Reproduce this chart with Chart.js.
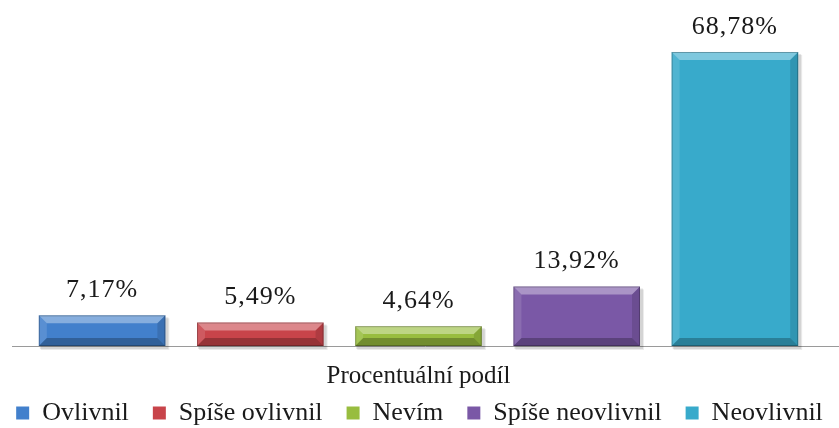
<!DOCTYPE html>
<html>
<head>
<meta charset="utf-8">
<script src="https://cdn.jsdelivr.net/npm/chart.js@4.4.0/dist/chart.umd.min.js"></script>
<style>
  html, body { margin: 0; padding: 0; background: #fff; }
  #wrap { width: 839px; height: 428px; position: relative; }
</style>
</head>
<body>
<div id="wrap"><canvas id="chart"></canvas></div>
<script>
const categories = ['Ovlivnil', 'Spíše ovlivnil', 'Nevím', 'Spíše neovlivnil', 'Neovlivnil'];
const shares = [7.17, 5.49, 4.64, 13.92, 68.78];
const barColors = ['#4280cc', '#c8444a', '#98bd3f', '#7a58a6', '#38aacb'];
const axisTitle = 'Procentuální podíl';

const serif = '"Liberation Serif", "Times New Roman", serif';
Chart.defaults.font.family = serif;
Chart.defaults.color = '#1a1a1a';

function fmt(v) {
    return v.toFixed(2).replace('.', ',') + '%';
}

// axis line a bit wider than the plot, like in the original
const baseLinePlugin = {
    id: 'baseLine',
    beforeDatasetsDraw(chart) {
        const ctx = chart.ctx;
        const y = chart.scales.y.getPixelForValue(0);
        ctx.save();
        ctx.strokeStyle = '#9a9a9a';
        ctx.lineWidth = 1;
        ctx.beginPath();
        ctx.moveTo(chart.chartArea.left - 11, y + 0.5);
        ctx.lineTo(chart.width, y + 0.5);
        ctx.stroke();
        ctx.restore();
    }
};

// shadow + bevel on each bar
const bevelPlugin = {
    id: 'bevel',
    beforeDatasetsDraw(chart) {
        const ctx = chart.ctx;
        chart.getDatasetMeta(0).data.forEach(bar => {
            const p = bar.getProps(['x', 'y', 'base', 'width'], true);
            const l = p.x - p.width / 2;
            ctx.save();
            ctx.fillStyle = 'rgba(0,0,0,0.10)';
            ctx.fillRect(l + 1, p.y + 2, p.width + 2, p.base - p.y + 1);
            ctx.fillStyle = 'rgba(0,0,0,0.08)';
            ctx.fillRect(l + 2, p.y + 3, p.width + 2, p.base - p.y + 1);
            ctx.restore();
        });
    },
    afterDatasetsDraw(chart) {
        const ctx = chart.ctx;
        chart.getDatasetMeta(0).data.forEach(bar => {
            const p = bar.getProps(['x', 'y', 'base', 'width'], true);
            const l = p.x - p.width / 2, r = p.x + p.width / 2;
            const t = p.y, b = p.base;
            const d = Math.min(8, (b - t) / 2.5);
            const poly = (pts, col) => {
                ctx.fillStyle = col;
                ctx.beginPath();
                ctx.moveTo(pts[0][0], pts[0][1]);
                for (let i = 1; i < pts.length; i++) ctx.lineTo(pts[i][0], pts[i][1]);
                ctx.closePath();
                ctx.fill();
            };
            ctx.save();
            poly([[l, t], [r, t], [r - d, t + d], [l + d, t + d]], 'rgba(255,255,255,0.36)');
            poly([[l, t], [l + d, t + d], [l + d, b - d], [l, b]], 'rgba(255,255,255,0.12)');
            poly([[r, t], [r, b], [r - d, b - d], [r - d, t + d]], 'rgba(0,0,0,0.12)');
            poly([[l, b], [l + d, b - d], [r - d, b - d], [r, b]], 'rgba(0,0,0,0.25)');
            ctx.strokeStyle = 'rgba(0,0,0,0.25)';
            ctx.lineWidth = 1;
            ctx.strokeRect(l + 0.5, t + 0.5, r - l - 1, b - t - 1);
            ctx.restore();
        });
    }
};

const valueLabelPlugin = {
    id: 'valueLabels',
    afterDatasetsDraw(chart) {
        const ctx = chart.ctx;
        ctx.save();
        ctx.font = '26px ' + serif;
        ctx.letterSpacing = '1px';
        ctx.fillStyle = '#1a1a1a';
        ctx.textAlign = 'center';
        ctx.textBaseline = 'middle';
        chart.getDatasetMeta(0).data.forEach((bar, i) => {
            const p = bar.getProps(['x', 'y'], true);
            ctx.fillText(fmt(shares[i]), p.x, p.y - 25);
        });
        ctx.restore();
    }
};

new Chart(document.getElementById('chart'), {
    type: 'bar',
    data: {
        labels: categories,
        datasets: [{
            data: shares,
            backgroundColor: barColors,
            borderWidth: 0,
            categoryPercentage: 1.0,
            barPercentage: 0.8
        }]
    },
    options: {
        responsive: true,
        maintainAspectRatio: false,
        animation: false,
        layout: { padding: { top: 4, left: -10, right: -10, bottom: -8 } },
        plugins: {
            legend: {
                position: 'bottom',
                labels: {
                    font: { family: serif, size: 26 },
                    color: '#1a1a1a',
                    boxWidth: 13,
                    boxHeight: 13,
                    padding: 24,
                    generateLabels: () => categories.map((c, i) => ({
                        text: c,
                        fillStyle: barColors[i],
                        strokeStyle: '#555',
                        fontColor: '#1a1a1a',
                        lineWidth: 0,
                        index: i
                    }))
                }
            },
            tooltip: { enabled: false }
        },
        scales: {
            x: {
                grid: { display: false },
                border: { display: false },
                ticks: { display: false },
                title: {
                    display: true,
                    text: axisTitle,
                    font: { family: serif, size: 25 },
                    color: '#1a1a1a',
                    padding: { top: 0, bottom: -15 }
                },
                afterFit: s => { s.height = 30; }
            },
            y: {
                min: 0,
                max: 80,
                grid: { display: false },
                border: { display: false },
                ticks: { display: false },
                afterFit: s => { s.width = 33; }
            },
            y2: {
                position: 'right',
                grid: { display: false },
                border: { display: false },
                ticks: { display: false },
                afterFit: s => { s.width = 35; }
            }
        }
    },
    plugins: [baseLinePlugin, bevelPlugin, valueLabelPlugin]
});
</script>
</body>
</html>
